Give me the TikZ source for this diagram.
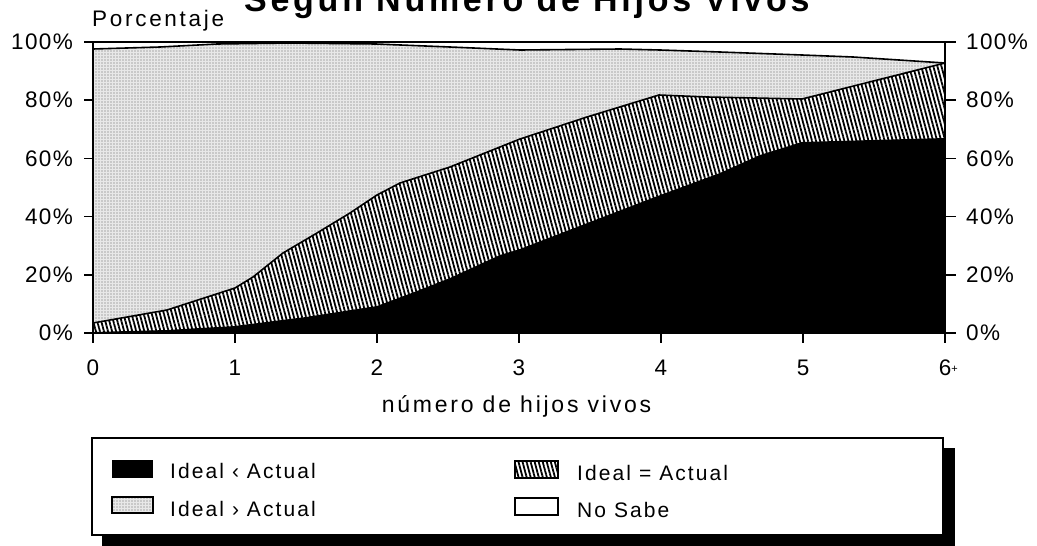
\documentclass[tikz,border=0pt]{standalone}
\usepackage{fontspec}
\setmainfont{Liberation Sans}
\usetikzlibrary{patterns.meta}
\tikzset{
  hatchfill/.style={pattern={Lines[angle=-75,distance=3.9pt,line width=1.8pt]},pattern color=black},
  dotbase/.style={fill=black!9},
  dotpat/.style={pattern={Dots[radius=0.6pt,distance=3pt]},pattern color=black!60},
  bnd/.style={line width=1.6pt,line join=round},
  axisline/.style={line width=1.6pt},
  ticklab/.style={inner sep=0pt,font=\fontsize{22.5}{26}\selectfont\addfontfeature{LetterSpace=6}},
  axtitle/.style={inner sep=0pt,font=\fontsize{23}{27}\selectfont\addfontfeature{LetterSpace=12}},
  porct/.style={inner sep=0pt,font=\fontsize{22.5}{26}\selectfont\addfontfeature{LetterSpace=12}},
  titlet/.style={inner sep=0pt,font=\fontsize{34}{40}\bfseries\selectfont\addfontfeature{LetterSpace=11}},
  legtext/.style={inner sep=0pt,font=\fontsize{21}{25}\selectfont\addfontfeature{LetterSpace=10}},
  swatch/.style={line width=1.3pt},
}
\begin{document}
\begin{tikzpicture}[x=1pt,y=-1pt]
\useasboundingbox (0,0) rectangle (1037,546);
\fill[white] (0,0) rectangle (1037,546);

% title and y-axis caption
\node[titlet,anchor=base west] (title) at (244,12) {Según Número de Hijos Vivos};
\node[porct,anchor=base west] (porc) at (92,27) {Porcentaje};

% Ideal > Actual (dotted)
\fill[dotbase] (93,333) -- (93,49) -- (160,47) -- (217,44) -- (290,43) -- (376,44) -- (450,47) -- (520,50) -- (620,49) -- (660,50) -- (720,52) -- (802,55) -- (853,57) -- (945,63) -- (945,333) -- cycle;
\fill[dotpat] (93,333) -- (93,49) -- (160,47) -- (217,44) -- (290,43) -- (376,44) -- (450,47) -- (520,50) -- (620,49) -- (660,50) -- (720,52) -- (802,55) -- (853,57) -- (945,63) -- (945,333) -- cycle;
% Ideal = Actual (hatched)
\fill[white] (93,333) -- (93,323) -- (167,310) -- (235,288) -- (253,277) -- (283,253) -- (317,233) -- (350,213) -- (377,195) -- (400,183) -- (450,167) -- (500,147) -- (520,139) -- (587,117) -- (659,95) -- (707,97) -- (802,99) -- (945,63) -- (945,333) -- cycle;
\fill[hatchfill] (93,333) -- (93,323) -- (167,310) -- (235,288) -- (253,277) -- (283,253) -- (317,233) -- (350,213) -- (377,195) -- (400,183) -- (450,167) -- (500,147) -- (520,139) -- (587,117) -- (659,95) -- (707,97) -- (802,99) -- (945,63) -- (945,333) -- cycle;
% Ideal < Actual (black)
\fill[black] (93,333) -- (93,332) -- (167,330) -- (235,326) -- (306,317) -- (377,306) -- (417,291) -- (450,278) -- (500,255) -- (520,249) -- (590,222) -- (655,197) -- (720,173) -- (760,155) -- (802,142) -- (945,138) -- (945,333) -- cycle;

% boundaries
\draw[bnd] (93,49) -- (160,47) -- (217,44) -- (290,43) -- (376,44) -- (450,47) -- (520,50) -- (620,49) -- (660,50) -- (720,52) -- (802,55) -- (853,57) -- (945,63);
\draw[bnd] (93,323) -- (167,310) -- (235,288) -- (253,277) -- (283,253) -- (317,233) -- (350,213) -- (377,195) -- (400,183) -- (450,167) -- (500,147) -- (520,139) -- (587,117) -- (659,95) -- (707,97) -- (802,99) -- (945,63);

% frame
\draw[line width=1.3pt] (93,42) -- (945,42);
\draw[axisline] (93,42) -- (93,333) -- (945,333) -- (945,42);

% y ticks and labels
\foreach \k/\lab in {0/100,1/80,2/60,3/40,4/20,5/0}{
  \draw[axisline] (84,{42+58.2*\k}) -- (93,{42+58.2*\k});
  \draw[axisline] (945,{42+58.2*\k}) -- (956,{42+58.2*\k});
  \node[ticklab,anchor=east] (yl\k) at (73,{42+58.2*\k}) {\lab\%};
  \node[ticklab,anchor=west] (yr\k) at (966,{42+58.2*\k}) {\lab\%};
}
% x ticks and labels
\foreach \i in {0,...,5}{
  \draw[axisline] ({93+142*\i},333) -- ({93+142*\i},343);
  \node[ticklab,anchor=base] (xl\i) at ({93+142*\i},375) {\i};
}
\draw[axisline] (945,333) -- (945,343);
\node[ticklab,anchor=base] (xl6) at (945,375) {6\rlap{\fontsize{11}{11}\selectfont\raisebox{2.5pt}{+}}};
\node[axtitle,anchor=base] (xtitle) at (516.5,412) {número de hijos vivos};

% legend
\fill[black] (102,448) rectangle (955,548);
\draw[line width=1.5pt,fill=white] (92,438) rectangle (943,535);
\fill[black] (112,460) rectangle (153,478);
\fill[dotbase] (112,497) rectangle (153,513);
\fill[dotpat] (112,497) rectangle (153,513);
\draw[swatch] (112,497) rectangle (153,513);
\fill[white] (515,461) rectangle (558,478);
\draw[swatch,hatchfill] (515,461) rectangle (558,478);
\draw[swatch] (515,498) rectangle (558,515);
\node[legtext,anchor=base west] (l1) at (170,478.5) {Ideal ‹ Actual};
\node[legtext,anchor=base west] (l2) at (170,516.5) {Ideal › Actual};
\node[legtext,anchor=base west] (l3) at (577,480) {Ideal = Actual};
\node[legtext,anchor=base west] (l4) at (577,517) {No Sabe};
\end{tikzpicture}
\end{document}
